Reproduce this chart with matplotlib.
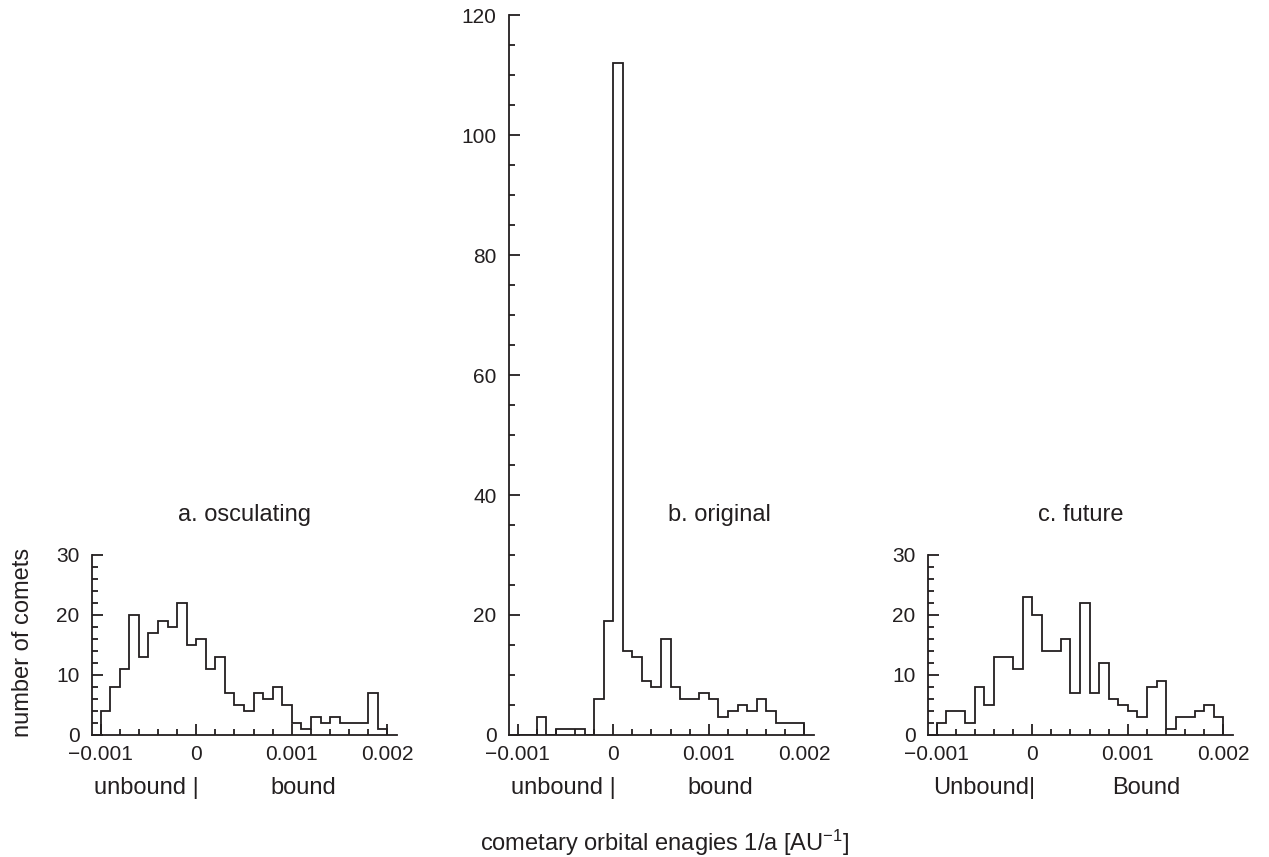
import numpy as np
import matplotlib
matplotlib.use("Agg")
import matplotlib.pyplot as plt
from matplotlib.ticker import FixedLocator, MultipleLocator
import matplotlib.transforms as mtransforms

plt.rcParams['font.family'] = ['Liberation Sans', 'DejaVu Sans']
plt.rcParams['mathtext.fontset'] = 'custom'
plt.rcParams['mathtext.rm'] = 'Liberation Sans'
plt.rcParams['mathtext.default'] = 'regular'

INK = '#231f20'

# Histogram bins in 1/a [AU^-1]: 30 bins of width 0.0001 from -0.001 to 0.002
bin_start = -0.001
bin_width = 0.0001
n_bins = 30

osculating = [4, 8, 11, 20, 13, 17, 19, 18, 22, 15, 16, 11, 13, 7, 5,
              4, 7, 6, 8, 5, 2, 1, 3, 2, 3, 2, 2, 2, 7, 1]
original = [0, 0, 3, 0, 1, 1, 1, 0, 6, 19, 112, 14, 13, 9, 8,
            16, 8, 6, 6, 7, 6, 3, 4, 5, 4, 6, 4, 2, 2, 2]
future = [2, 4, 4, 2, 8, 5, 13, 13, 11, 23, 20, 14, 14, 16, 7,
          22, 7, 12, 6, 5, 4, 3, 8, 9, 1, 3, 3, 4, 5, 3]

x_ticks = [-0.001, 0.0, 0.001, 0.002]
x_tick_labels = ['\u22120.001', '0', '0.001', '0.002']

titles = ['a. osculating', 'b. original', 'c. future']
unbound_labels = ['unbound |', 'unbound |', 'Unbound|']
bound_labels = ['bound', 'bound', 'Bound']

W, H = 1269, 857
fig = plt.figure(figsize=(W / 100, H / 100), dpi=100)

edges = bin_start + bin_width * np.arange(n_bins + 1)


def px_axes(left, top, width, height):
    return fig.add_axes([left / W, 1 - (top + height) / H, width / W, height / H])


panels = [
    (px_axes(92, 555, 305, 180), osculating, 30, 10, 2),
    (px_axes(509, 15, 305, 720), original, 120, 20, 5),
    (px_axes(928, 555, 305, 180), future, 30, 10, 2),
]

for i, (ax, counts, ymax, ymaj, ymin) in enumerate(panels):
    ax.stairs(counts, edges, baseline=0, fill=False, color=INK, linewidth=1.3)
    ax.set_xlim(-0.00109, 0.0021)
    ax.set_ylim(0, ymax)
    for s in ('top', 'right'):
        ax.spines[s].set_visible(False)
    for s in ('left', 'bottom'):
        ax.spines[s].set_linewidth(1.3)
        ax.spines[s].set_color(INK)
    ax.xaxis.set_major_locator(FixedLocator(x_ticks))
    ax.set_xticklabels(x_tick_labels)
    ax.xaxis.set_minor_locator(MultipleLocator(0.0002))
    ax.yaxis.set_major_locator(MultipleLocator(ymaj))
    ax.yaxis.set_minor_locator(MultipleLocator(ymin))
    ax.tick_params(which='both', direction='in', color=INK, width=1.3,
                   labelcolor=INK, labelsize=15)
    ax.tick_params(which='major', length=8)
    ax.tick_params(which='minor', length=4)
    ax.tick_params(axis='x', which='major', pad=7)
    ax.tick_params(axis='y', which='major', pad=9)

    # unbound / bound annotations under the tick labels
    tr = mtransforms.blended_transform_factory(ax.transData, fig.transFigure)
    off = mtransforms.ScaledTranslation(3 / 100, 0, fig.dpi_scale_trans)
    ax.text(0.0, 1 - 788 / H, unbound_labels[i], transform=tr + off,
            ha='right', va='center', fontsize=17, color=INK)
    bound_x = 0.00112 if i < 2 else 0.00119
    ax.text(bound_x, 1 - 788 / H, bound_labels[i], transform=tr,
            ha='center', va='center', fontsize=17, color=INK)

# panel titles
panels[0][0].text(0.5, 1 + 40 / 180, titles[0], transform=panels[0][0].transAxes,
                  ha='center', va='center', fontsize=17, color=INK)
panels[1][0].text(0.00111, 36.7, titles[1], ha='center', va='center',
                  fontsize=17, color=INK)
panels[2][0].text(0.5, 1 + 40 / 180, titles[2], transform=panels[2][0].transAxes,
                  ha='center', va='center', fontsize=17, color=INK)

fig.text(23 / W, 1 - 642 / H, 'number of comets', rotation=90,
         ha='center', va='center', fontsize=17, color=INK)
fig.text(665 / W, 1 - 843 / H, 'cometary orbital enagies 1/a [AU$^{-1}$]',
         ha='center', va='center', fontsize=17, color=INK)

fig.savefig('out.png', dpi=100, facecolor='white')
